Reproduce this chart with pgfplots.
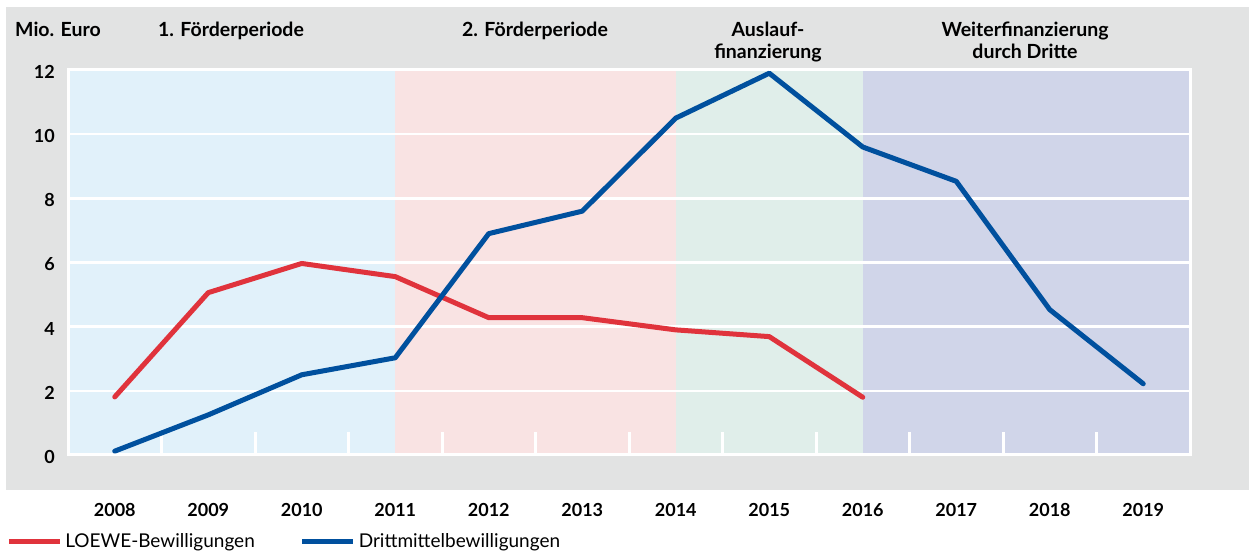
\documentclass[border=0pt]{standalone}
\usepackage{fontspec}
\setmainfont{Lato}
\usepackage{pgfplots}
\pgfplotsset{compat=1.18}
\definecolor{bggray}{HTML}{E2E3E3}
\definecolor{bblue}{HTML}{E1F1FA}
\definecolor{bpink}{HTML}{F9E3E3}
\definecolor{bgreen}{HTML}{E0EEEA}
\definecolor{bpurple}{HTML}{D0D5E9}
\definecolor{lred}{HTML}{E0333C}
\definecolor{lblue}{HTML}{00509E}
\begin{document}
\begin{tikzpicture}
\path (0pt,0pt) rectangle (1249pt,551pt);
\begin{axis}[
  set layers,
  at={(68pt,96pt)}, anchor=south west,
  scale only axis, width=1122pt, height=385pt,
  xmin=2007.5, xmax=2019.5, ymin=0, ymax=12,
  xtick={2008,2009,2010,2011,2012,2013,2014,2015,2016,2017,2018,2019},
  xticklabels={2008,2009,2010,2011,2012,2013,2014,2015,2016,2017,2018,2019},
  ytick={0,2,4,6,8,10,12},
  yticklabels={0,2,4,6,8,10,12},
  xticklabel style={anchor=center, inner sep=0pt, yshift=-55pt, font=\fontsize{18}{18}\selectfont\bfseries},
  yticklabel style={anchor=east, inner sep=0pt, xshift=-13pt, yshift=-2pt, font=\fontsize{18}{18}\selectfont\bfseries},
  major tick length=0pt,
  axis line style={white, line width=3pt},
  ymajorgrids, grid style={white, line width=2.5pt},
  clip=false,
  legend columns=2,
  legend style={at={(-0.0552,-0.2234)}, anchor=west, draw=none, fill=none, inner sep=0pt,
    font=\fontsize{19}{19}\selectfont,
    nodes={inner sep=0pt},
    /tikz/every odd column/.append style={column sep=3pt},
    /tikz/every even column/.append style={column sep=45pt}},
  legend image code/.code={\draw[#1, line cap=butt] (0pt,0pt) -- (51pt,0pt);},
]
\begin{pgfonlayer}{axis background}
\fill[bggray] (rel axis cs:-0.05526,-0.0909) rectangle (rel axis cs:1.0525,1.16364);
\fill[bblue] (axis cs:2007.5,0) rectangle (axis cs:2011,12);
\fill[bpink] (axis cs:2011,0) rectangle (axis cs:2014,12);
\fill[bgreen] (axis cs:2014,0) rectangle (axis cs:2016,12);
\fill[bpurple] (axis cs:2016,0) rectangle (axis cs:2019.5,12);
\end{pgfonlayer}
\addplot[white, line width=3pt, ycomb, no markers, forget plot] coordinates {
(2008.5,0.72) (2009.5,0.72) (2010.5,0.72) (2011.5,0.72) (2012.5,0.72) (2013.5,0.72)
(2014.5,0.72) (2015.5,0.72) (2016.5,0.72) (2017.5,0.72) (2018.5,0.72)};
\addplot[lred, line width=5pt, line join=round, line cap=round, no markers] coordinates {
(2008,1.81) (2009,5.06) (2010,5.97) (2011,5.56) (2012,4.28) (2013,4.28) (2014,3.9) (2015,3.69) (2016,1.8)};
\addlegendentry{LOEWE-Bewilligungen}
\addplot[lblue, line width=5pt, line join=round, line cap=round, no markers] coordinates {
(2008,0.12) (2009,1.25) (2010,2.5) (2011,3.03) (2012,6.9) (2013,7.6) (2014,10.5) (2015,11.9) (2016,9.6) (2017,8.53) (2018,4.53) (2019,2.22)};
\addlegendentry{Drittmittelbewilligungen}
\end{axis}
\begin{scope}[every node/.style={inner sep=0pt, font=\fontsize{19.5}{19.5}\selectfont\bfseries}]
\node[anchor=base west] at (15pt,514pt) {Mio. Euro};
\node[anchor=base] at (231pt,514pt) {1. Förderperiode};
\node[anchor=base] at (535pt,514pt) {2. Förderperiode};
\node[anchor=base] at (768pt,514.5pt) {Auslauf-};
\node[anchor=base] at (768pt,492pt) {finanzierung};
\node[anchor=base] at (1025pt,514.5pt) {Weiterfinanzierung};
\node[anchor=base] at (1025pt,492pt) {durch Dritte};
\end{scope}
\end{tikzpicture}
\end{document}
